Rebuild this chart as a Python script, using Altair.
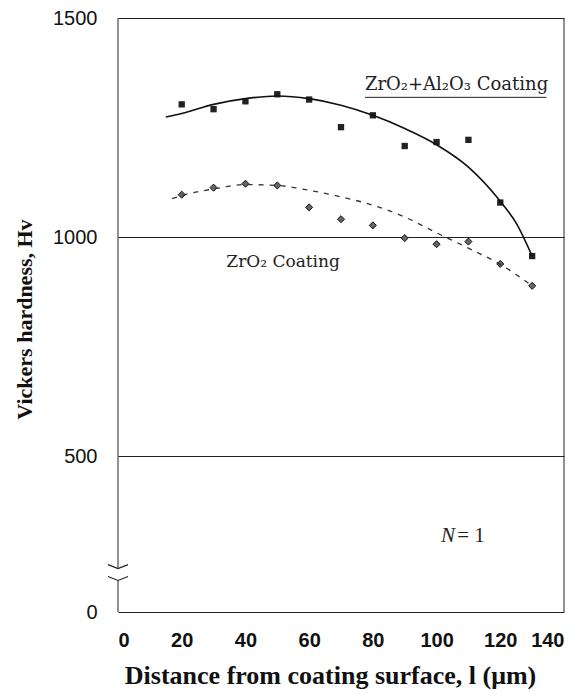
import altair as alt
import pandas as pd

# Measured points (distance from coating surface, um)
depth = [20, 30, 40, 50, 60, 70, 80, 90, 100, 110, 120, 130]
hv_zro2_al2o3 = [1303, 1292, 1310, 1326, 1314, 1251, 1278, 1208, 1217, 1222, 1079, 957]
hv_zro2 = [1097, 1113, 1122, 1118, 1068, 1041, 1027, 998, 984, 990, 939, 889]

# Fitted curves
fit_depth_al = [15, 20, 30, 40, 50, 60, 70, 80, 90, 100, 110, 120, 125, 130]
fit_hv_al = [1274, 1282, 1303, 1316, 1322, 1316, 1301, 1278, 1248, 1211, 1160, 1082, 1032, 957]
fit_depth_zr = [17, 20, 30, 40, 50, 60, 70, 80, 90, 100, 110, 120, 130]
fit_hv_zr = [1088, 1095, 1110, 1120, 1118, 1107, 1092, 1073, 1046, 1010, 975, 938, 889]

x_ticks = [0, 20, 40, 60, 80, 100, 120, 140]
y_ticks = [145, 500, 1000, 1500]   # lowest tick is the broken-axis "0"

pts = pd.DataFrame({
    "depth": depth * 2,
    "hv": hv_zro2_al2o3 + hv_zro2,
    "series": ["ZrO2+Al2O3"] * len(depth) + ["ZrO2"] * len(depth),
})
fit_al = pd.DataFrame({"depth": fit_depth_al, "hv": fit_hv_al})
fit_zr = pd.DataFrame({"depth": fit_depth_zr, "hv": fit_hv_zr})

SERIF = "Liberation Serif"
SERIF_WIDE = "DejaVu Serif"
SANS = "Liberation Sans"

xs = alt.Scale(domain=[0, 140], nice=False)
ys = alt.Scale(domain=[145, 1500], nice=False)

X = alt.X("depth:Q", scale=xs, axis=alt.Axis(
    values=x_ticks, title="Distance from coating surface, l (μm)",
    grid=False, domain=False, ticks=False, labelPadding=18,
    labelFont=SANS, labelFontSize=20, labelFontWeight="bold", labelColor="#111",
    titleFont=SERIF, titleFontSize=26, titleFontWeight="bold", titleColor="#111",
    titlePadding=12, titleX=212))
Y = alt.Y("hv:Q", scale=ys, axis=alt.Axis(
    values=y_ticks, format="d",
    labelExpr="datum.value < 200 ? '0' : datum.label",
    title="Vickers hardness, Hv",
    grid=True, gridColor="#222", gridWidth=1, domain=False, ticks=False,
    labelPadding=21, labelFont=SANS, labelFontSize=20, labelColor="#111",
    titleFont=SERIF, titleFontSize=22, titleFontWeight="bold", titleColor="#111",
    titlePadding=16, titleY=301))

al_pts = alt.Chart(pts).transform_filter("datum.series == 'ZrO2+Al2O3'").mark_point(
    shape="square", filled=True, size=40, color="#222", opacity=1
).encode(x=X, y=Y)

zr_pts = alt.Chart(pts).transform_filter("datum.series == 'ZrO2'").mark_point(
    shape="diamond", filled=True, size=50, fill="#666", stroke="#111", strokeWidth=1, opacity=1
).encode(x=X, y=Y)

al_fit = alt.Chart(fit_al).mark_line(
    color="#111", strokeWidth=1.6, interpolate="monotone"
).encode(x=X, y=Y)

zr_fit = alt.Chart(fit_zr).mark_line(
    color="#333", strokeWidth=1.3, strokeDash=[5, 6], interpolate="monotone"
).encode(x=X, y=Y)

# Frame: left axis (with break) and right edge
frame_src = alt.Chart(pd.DataFrame({"k": [0]}))
left_top = frame_src.mark_rule(color="#222", strokeWidth=1).encode(
    x=alt.datum(0), y=alt.datum(1500), y2=alt.datum(244))
left_bot = frame_src.mark_rule(color="#222", strokeWidth=1).encode(
    x=alt.datum(0), y=alt.datum(217), y2=alt.datum(145))
right_edge = frame_src.mark_rule(color="#222", strokeWidth=1).encode(
    x=alt.datum(140), y=alt.datum(145), y2=alt.datum(1500))
break_up = frame_src.mark_point(
    shape="M-1,-0.4L0,0L1,-0.4", size=400, filled=False, stroke="#222", strokeWidth=1.2, opacity=1
).encode(x=alt.datum(0), y=alt.datum(244))
break_dn = frame_src.mark_point(
    shape="M-1,-0.4L0,0L1,-0.4", size=400, filled=False, stroke="#222", strokeWidth=1.2, opacity=1
).encode(x=alt.datum(0), y=alt.datum(217))

# Annotations
lab_al = frame_src.mark_text(
    text="ZrO₂+Al₂O₃ Coating", font=SERIF_WIDE, fontSize=18, align="left", baseline="middle", color="#222"
).encode(x=alt.datum(77.5), y=alt.datum(1348))
lab_al_ul = frame_src.mark_rule(color="#222", strokeWidth=1).encode(
    x=alt.datum(77.5), x2=alt.datum(134.5), y=alt.datum(1319))
lab_zr = frame_src.mark_text(
    text="ZrO₂ Coating", font=SERIF_WIDE, fontSize=17, align="left", baseline="middle", color="#222"
).encode(x=alt.datum(34), y=alt.datum(943))
lab_n = frame_src.mark_text(
    text="N", font=SERIF, fontSize=21, fontStyle="italic", align="right", baseline="middle", color="#222"
).encode(x=alt.datum(105.8), y=alt.datum(319))
lab_n2 = frame_src.mark_text(
    text="= 1", font=SERIF, fontSize=21, align="left", baseline="middle", color="#222"
).encode(x=alt.datum(106.5), y=alt.datum(319))

chart = alt.layer(
    al_pts, zr_pts, al_fit, zr_fit,
    left_top, left_bot, right_edge, break_up, break_dn,
    lab_al, lab_al_ul, lab_zr, lab_n, lab_n2,
).properties(
    width=446, height=594,
    padding={"left": 5, "top": 0, "right": 5, "bottom": 5},
).configure_view(stroke=None)

chart.save("out.html", embed_options={"renderer": "svg", "actions": False})
